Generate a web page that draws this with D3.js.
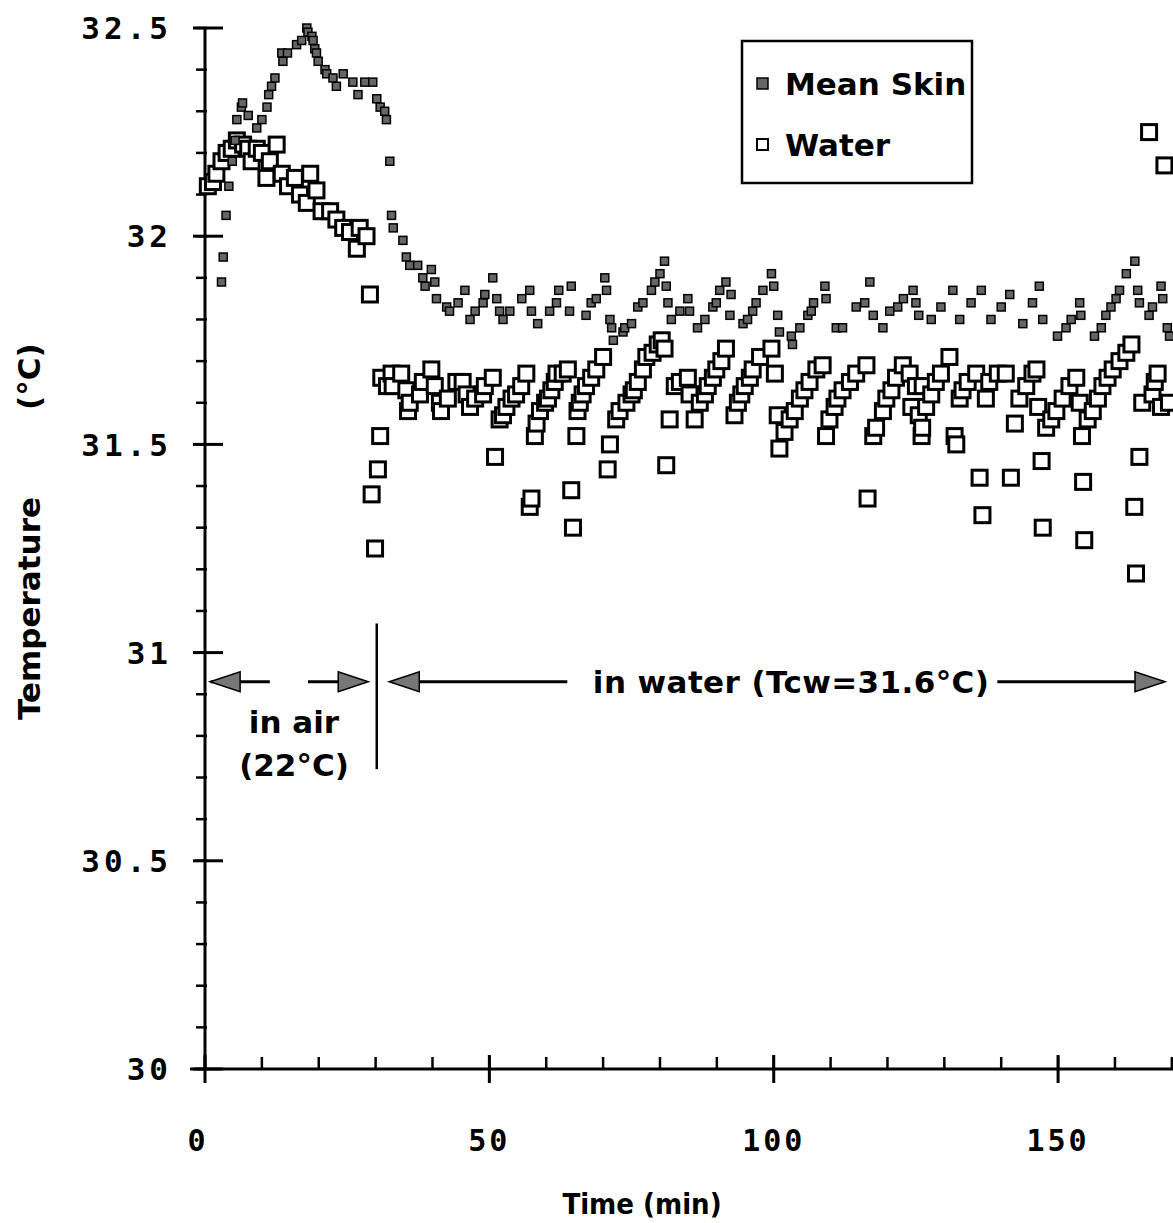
<!DOCTYPE html>
<html>
<head>
<meta charset="utf-8">
<script src="https://cdn.jsdelivr.net/npm/d3@7"></script>
<style>
  html, body { margin: 0; padding: 0; background: #fff; }
  svg { display: block; }
</style>
</head>
<body>
<svg id="chart" width="1173" height="1223"></svg>
<script>
// ---- DATA ----
const xTicksMajor = [0, 50, 100, 150];
const yTicksMajor = [30, 30.5, 31, 31.5, 32, 32.5];
const yTickLabels = ["30", "30.5", "31", "31.5", "32", "32.5"];
const seriesNames = ["Mean Skin", "Water"];

// Mean skin temperature: [time (min), temperature (°C)]
const meanSkin = [
  [2.9,31.89],[3.2,31.95],[3.7,32.05],[4.2,32.12],[4.8,32.18],[5.3,32.23],[5.6,32.28],[6.4,32.31],[6.6,32.32],
  [7.6,32.29],[9.1,32.26],[10.0,32.28],[10.9,32.31],[11.2,32.34],[11.7,32.36],[12.3,32.38],[13.5,32.44],[13.7,32.42],
  [14.5,32.44],[16.1,32.46],[17.0,32.47],[17.9,32.50],[18.1,32.49],[18.8,32.48],[19.0,32.47],[19.3,32.45],[19.6,32.44],
  [19.9,32.42],[21.1,32.40],[21.4,32.39],[22.5,32.38],[23.1,32.36],[24.3,32.39],[26.0,32.37],[26.9,32.34],[28.1,32.37],
  [29.5,32.37],[30.2,32.33],[30.8,32.31],[31.6,32.30],[31.9,32.28],[32.5,32.18],[32.8,32.05],[33.1,32.02],[34.8,31.99],
  [35.4,31.95],[36.0,31.93],[37.4,31.93],[38.3,31.90],[38.7,31.88],[39.8,31.92],[40.4,31.89],[40.7,31.85],[42.5,31.83],
  [43.0,31.82],[44.5,31.84],[45.7,31.87],[46.6,31.80],[47.5,31.82],[48.9,31.84],[49.2,31.86],[50.6,31.90],[51.3,31.85],
  [51.8,31.82],[52.4,31.80],[53.6,31.82],[55.7,31.85],[57.1,31.87],[57.4,31.82],[58.5,31.79],[60.6,31.82],[61.8,31.84],
  [62.2,31.87],[64.1,31.82],[64.4,31.88],[67.0,31.81],[67.9,31.84],[68.8,31.85],[70.3,31.90],[70.6,31.87],[71.2,31.80],
  [71.5,31.78],[71.8,31.75],[73.5,31.77],[73.8,31.78],[75.0,31.79],[76.1,31.83],[77.0,31.84],[78.5,31.87],[79.1,31.89],
  [80.0,31.91],[80.8,31.94],[81.1,31.88],[81.4,31.84],[82.0,31.80],[83.5,31.82],[84.9,31.85],[85.2,31.82],[86.6,31.78],
  [87.9,31.80],[89.3,31.83],[89.9,31.84],[90.5,31.87],[91.6,31.89],[92.3,31.81],[92.5,31.86],[94.6,31.79],[95.4,31.80],
  [96.3,31.82],[96.9,31.84],[98.1,31.87],[99.6,31.91],[100.0,31.88],[100.7,31.81],[101.0,31.77],[103.1,31.76],[103.3,31.74],
  [104.6,31.78],[106.0,31.81],[106.6,31.82],[107.0,31.84],[109.0,31.88],[109.2,31.85],[111.0,31.78],[112.1,31.78],[114.5,31.83],
  [116.0,31.84],[116.9,31.89],[117.5,31.81],[119.2,31.78],[120.4,31.82],[121.8,31.83],[122.8,31.85],[124.5,31.87],[125.0,31.84],
  [125.5,31.81],[127.7,31.80],[129.4,31.83],[131.5,31.87],[132.7,31.80],[134.7,31.84],[136.5,31.87],[138.2,31.80],[140.0,31.83],
  [141.5,31.86],[143.8,31.79],[145.5,31.84],[146.7,31.88],[147.3,31.80],[149.9,31.76],[151.4,31.78],[152.3,31.80],[153.8,31.84],
  [154.0,31.81],[156.4,31.76],[157.6,31.78],[158.4,31.81],[159.3,31.83],[160.2,31.85],[160.8,31.87],[162.0,31.91],[163.5,31.94],
  [164.0,31.87],[164.3,31.84],[166.0,31.81],[166.6,31.83],[168.1,31.88],[168.4,31.85],[169.2,31.78],[169.6,31.76]
];

// Water temperature: [time (min), temperature (°C)]
const water = [
  [0.5,32.12],[1.4,32.13],[2.0,32.15],[2.9,32.18],[3.8,32.20],[4.7,32.21],[5.6,32.23],[6.7,32.22],[7.6,32.21],[8.2,32.18],
  [9.1,32.21],[10.0,32.20],[10.8,32.14],[11.4,32.18],[12.6,32.22],[13.5,32.15],[14.6,32.12],[15.8,32.14],[16.7,32.10],
  [17.9,32.08],[18.5,32.15],[19.6,32.11],[20.5,32.06],[22.0,32.06],[23.1,32.04],[24.3,32.02],[25.5,32.01],[26.7,31.97],
  [27.2,32.02],[28.4,32.00],[29.0,31.86],[29.3,31.38],[29.9,31.25],[30.4,31.44],[30.8,31.52],[31.0,31.66],[32.0,31.64],
  [32.8,31.67],[33.0,31.64],[34.5,31.67],[35.4,31.63],[35.7,31.58],[36.0,31.60],[37.8,31.62],[38.3,31.65],[39.8,31.68],
  [40.4,31.64],[41.3,31.60],[41.5,31.58],[42.7,31.61],[44.2,31.65],[45.3,31.65],[46.0,31.62],[46.6,31.59],[47.5,31.61],
  [48.9,31.62],[49.2,31.64],[50.6,31.66],[51.0,31.47],[51.8,31.56],[52.4,31.57],[53.0,31.59],[53.9,31.61],[54.7,31.62],
  [55.6,31.64],[56.5,31.67],[57.1,31.35],[57.4,31.37],[58.0,31.52],[58.3,31.55],[58.9,31.58],[59.8,31.60],[60.3,31.61],
  [60.9,31.63],[61.5,31.65],[61.8,31.67],[62.9,31.67],[63.8,31.68],[64.4,31.39],[64.7,31.30],[65.3,31.52],[65.5,31.58],
  [65.9,31.60],[66.4,31.62],[67.0,31.64],[67.9,31.66],[68.8,31.68],[70.0,31.71],[70.8,31.44],[71.2,31.50],[72.3,31.56],
  [72.9,31.58],[74.1,31.60],[75.0,31.62],[75.4,31.63],[76.1,31.65],[77.0,31.68],[77.6,31.71],[78.7,31.72],[79.6,31.74],
  [80.3,31.75],[80.8,31.73],[81.1,31.45],[81.7,31.56],[82.6,31.64],[83.5,31.65],[84.9,31.66],[85.2,31.62],[86.1,31.56],
  [87.0,31.60],[87.9,31.62],[88.4,31.64],[89.3,31.66],[89.9,31.68],[90.8,31.70],[91.6,31.73],[93.1,31.57],[93.7,31.60],
  [94.3,31.62],[94.9,31.64],[95.8,31.66],[96.3,31.68],[97.6,31.71],[99.6,31.73],[100.2,31.67],[100.7,31.57],[101.0,31.49],
  [101.9,31.53],[102.8,31.56],[103.7,31.58],[104.6,31.61],[105.4,31.63],[106.3,31.65],[107.5,31.68],[108.6,31.69],
  [109.2,31.52],[109.8,31.56],[110.7,31.59],[111.2,31.61],[112.1,31.63],[113.4,31.65],[114.5,31.67],[116.3,31.69],
  [116.5,31.37],[117.5,31.52],[118.0,31.54],[119.2,31.58],[119.8,31.61],[120.7,31.63],[121.5,31.66],[122.7,31.69],
  [123.9,31.67],[124.2,31.59],[125.0,31.64],[125.5,31.57],[126.0,31.52],[126.1,31.54],[126.2,31.64],[126.8,31.59],
  [127.7,31.62],[128.5,31.65],[129.4,31.67],[130.9,31.71],[131.8,31.52],[132.1,31.50],[132.7,31.61],[133.2,31.63],
  [134.1,31.65],[135.6,31.67],[136.2,31.42],[136.7,31.33],[137.3,31.61],[137.9,31.65],[139.4,31.67],[140.8,31.67],
  [141.7,31.42],[142.4,31.55],[143.2,31.61],[144.4,31.64],[145.5,31.67],[146.2,31.68],[146.5,31.59],[147.1,31.46],
  [147.3,31.30],[147.9,31.54],[148.8,31.56],[149.7,31.58],[150.8,31.61],[152.0,31.64],[153.2,31.66],[153.8,31.60],
  [154.2,31.52],[154.4,31.41],[154.6,31.27],[155.2,31.56],[156.1,31.58],[157.0,31.61],[157.8,31.64],[158.7,31.66],
  [159.6,31.68],[160.8,31.70],[162.0,31.72],[162.9,31.74],[163.4,31.35],[163.7,31.19],[164.3,31.47],[164.8,31.60],
  [166.0,32.25],[166.6,31.62],[167.0,31.65],[167.5,31.67],[168.1,31.59],[168.7,32.17],[169.5,31.60]
];

// Annotation labels (text)
const annAir = ["in air", "(22°C)"];
const annWater = "in water (Tcw=31.6°C)";
const xTitle = "Time (min)";
const yTitleParts = ["Temperature", "(°C)"];

// ---- DRAWING ----
const svg = d3.select("#chart");
const x = d3.scaleLinear().domain([0, 180]).range([205, 1228.7]);
const y = d3.scaleLinear().domain([30, 32.5]).range([1069, 28]);

const tickFont = "'DejaVu Sans Mono', monospace";
const labelFont = "'DejaVu Sans', sans-serif";
const condFont = "'DejaVu Sans Condensed', 'DejaVu Sans', sans-serif";

// Y axis
const yAxisG = svg.append("g").attr("transform", `translate(${x(0)},0)`);
yAxisG.append("line").attr("x1", 0).attr("x2", 0).attr("y1", y(32.5)).attr("y2", y(30))
  .attr("stroke", "#000").attr("stroke-width", 3);
const yMinor = d3.range(30, 32.5001, 0.1).map(v => +v.toFixed(2));
yAxisG.selectAll(".ymin").data(yMinor).join("line")
  .attr("x1", -9).attr("x2", 2).attr("y1", d => y(d)).attr("y2", d => y(d))
  .attr("stroke", "#000").attr("stroke-width", 2.5);
yAxisG.selectAll(".ymaj").data(yTicksMajor).join("line")
  .attr("x1", -12).attr("x2", 18).attr("y1", d => y(d)).attr("y2", d => y(d))
  .attr("stroke", "#000").attr("stroke-width", 3);
svg.selectAll(".ylab").data(yTicksMajor).join("text")
  .attr("x", 172).attr("y", d => y(d)).attr("dy", "0.36em")
  .attr("text-anchor", "end").attr("font-family", tickFont).attr("font-weight", "bold")
  .attr("font-size", 31).attr("letter-spacing", 4)
  .text((d, i) => yTickLabels[i]);

// X axis
const xAxisG = svg.append("g").attr("transform", `translate(0,${y(30)})`);
xAxisG.append("line").attr("x1", 190).attr("x2", 1173).attr("y1", 0).attr("y2", 0)
  .attr("stroke", "#000").attr("stroke-width", 3);
const xMinor = d3.range(0, 181, 10);
xAxisG.selectAll(".xmin").data(xMinor).join("line")
  .attr("x1", d => x(d)).attr("x2", d => x(d)).attr("y1", -12).attr("y2", 0)
  .attr("stroke", "#000").attr("stroke-width", 2.5);
xAxisG.selectAll(".xmaj").data(xTicksMajor).join("line")
  .attr("x1", d => x(d)).attr("x2", d => x(d)).attr("y1", -14).attr("y2", 14)
  .attr("stroke", "#000").attr("stroke-width", 3);
svg.selectAll(".xlab").data(xTicksMajor).join("text")
  .attr("x", d => x(d) - (d === 0 ? 7 : 0)).attr("y", 1151)
  .attr("text-anchor", "middle").attr("font-family", tickFont).attr("font-weight", "bold")
  .attr("font-size", 30).attr("letter-spacing", 3)
  .text(d => d);

// Axis titles
svg.append("text").attr("x", 642).attr("y", 1214).attr("text-anchor", "middle")
  .attr("font-family", condFont).attr("font-weight", "bold").attr("font-size", 29)
  .text(xTitle);
const yt = svg.append("text").attr("transform", "translate(40,720) rotate(-90)")
  .attr("text-anchor", "start").attr("font-family", labelFont).attr("font-weight", "bold")
  .attr("font-size", 31);
yt.append("tspan").attr("x", 0).text(yTitleParts[0]);
yt.append("tspan").attr("x", 310).text(yTitleParts[1]);

// Data marks
const plot = svg.append("g");
const ws = 15;
plot.selectAll(".w").data(water).join("rect")
  .attr("x", d => x(d[0]) - ws / 2).attr("y", d => y(d[1]) - ws / 2)
  .attr("width", ws).attr("height", ws)
  .attr("fill", "#fff").attr("stroke", "#000").attr("stroke-width", 3);
const ms = 8;
plot.selectAll(".m").data(meanSkin).join("rect")
  .attr("x", d => x(d[0]) - ms / 2).attr("y", d => y(d[1]) - ms / 2)
  .attr("width", ms).attr("height", ms)
  .attr("fill", "#666").attr("stroke", "#000").attr("stroke-width", 1.5);

// Legend
const lg = svg.append("g");
lg.append("rect").attr("x", 742).attr("y", 41).attr("width", 230).attr("height", 142)
  .attr("fill", "#fff").attr("stroke", "#000").attr("stroke-width", 2.5);
lg.append("rect").attr("x", 757).attr("y", 78).attr("width", 11).attr("height", 11)
  .attr("fill", "#666").attr("stroke", "#000").attr("stroke-width", 1.5);
lg.append("rect").attr("x", 757).attr("y", 139).attr("width", 11).attr("height", 11)
  .attr("fill", "#fff").attr("stroke", "#000").attr("stroke-width", 2);
lg.selectAll(".lt").data(seriesNames).join("text")
  .attr("x", 785).attr("y", (d, i) => 95 + i * 61)
  .attr("font-family", labelFont).attr("font-weight", "bold").attr("font-size", 31)
  .text(d => d);

// Annotations
const annY = 30.93;
function arrowHead(tipX, dir) {
  const yy = y(annY);
  const L = 30, H = 10;
  const pts = [[tipX, yy], [tipX - dir * L, yy - H], [tipX - dir * L, yy + H]];
  svg.append("polygon").attr("points", pts.map(p => p.join(",")).join(" "))
    .attr("fill", "#777").attr("stroke", "#000").attr("stroke-width", 1.5);
}
function hline(t1, t2) {
  svg.append("line").attr("x1", x(t1)).attr("x2", x(t2)).attr("y1", y(annY)).attr("y2", y(annY))
    .attr("stroke", "#000").attr("stroke-width", 3);
}
// in-air arrows
hline(1, 11.4); arrowHead(x(0.9), -1);
hline(18.1, 28); arrowHead(x(28.7), 1);
// divider
svg.append("line").attr("x1", x(30.2)).attr("x2", x(30.2)).attr("y1", y(31.07)).attr("y2", y(30.72))
  .attr("stroke", "#000").attr("stroke-width", 2.5);
// in-water arrows
hline(33, 63.7); arrowHead(x(32.4), -1);
const wt = svg.append("text").attr("x", x(68.2)).attr("y", y(annY)).attr("dy", "0.36em")
  .attr("font-family", labelFont).attr("font-weight", "bold").attr("font-size", 31)
  .attr("letter-spacing", 0.4)
  .text(annWater);
const wEnd = wt.node().getComputedTextLength() + x(68.2);
svg.append("line").attr("x1", wEnd + 8).attr("x2", x(168.5)).attr("y1", y(annY)).attr("y2", y(annY))
  .attr("stroke", "#000").attr("stroke-width", 3);
arrowHead(x(168.8), 1);

svg.selectAll(".air").data(annAir).join("text")
  .attr("x", 294).attr("y", (d, i) => 733 + i * 43)
  .attr("text-anchor", "middle").attr("font-family", labelFont).attr("font-weight", "bold")
  .attr("font-size", 31).text(d => d);
</script>
</body>
</html>
